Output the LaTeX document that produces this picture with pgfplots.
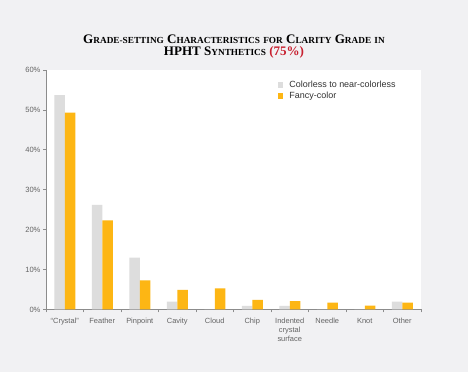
\documentclass[border=0pt]{standalone}
\usepackage{fontspec}
\setmainfont{Liberation Sans}
\newfontfamily\titlefont{Liberation Serif}
\usepackage{pgfplots}
\pgfplotsset{compat=1.18}
\definecolor{bg}{RGB}{241,241,243}
\definecolor{axgray}{RGB}{140,140,140}
\definecolor{lightbar}{RGB}{221,221,221}
\definecolor{orangebar}{RGB}{253,182,20}
\definecolor{titlered}{RGB}{200,32,47}
\definecolor{labgray}{RGB}{100,100,100}
\newcommand\fsc[1]{{\fontsize{9.3}{9.3}\selectfont #1}}
\begin{document}
\begin{tikzpicture}
\path[use as bounding box, fill=bg] (0,0) rectangle (468bp,372bp);
\node[anchor=base, font=\titlefont\bfseries\fontsize{13.1}{14}\selectfont] at (234bp,328.5bp)
  {G\fsc{RADE-SETTING} C\fsc{HARACTERISTICS} \fsc{FOR} C\fsc{LARITY} G\fsc{RADE} \fsc{IN}};
\node[anchor=base, font=\titlefont\bfseries\fontsize{13.1}{14}\selectfont] at (234bp,316bp)
  {HPHT S\fsc{YNTHETICS} \textcolor{titlered}{(75\%)}};
\begin{axis}[
  at={(46bp,62.5bp)}, anchor=south west,
  scale only axis, width=375bp, height=239.5bp,
  axis background/.style={fill=white},
  axis x line=bottom, axis y line=left,
  axis line style={draw=axgray, line width=0.8bp, -},
  xmin=-0.5, xmax=9.5, ymin=0, ymax=60,
  xtick={0,...,9},
  xticklabels={``Crystal'',Feather,Pinpoint,Cavity,Cloud,Chip,{Indented\\crystal\\surface},Needle,Knot,Other},
  major x tick style={draw=none},
  minor xtick={-0.5,0.5,1.5,2.5,3.5,4.5,5.5,6.5,7.5,8.5,9.5},
  minor x tick style={draw=axgray, line width=0.8bp},
  minor tick length=3bp,
  major tick length=3bp,
  tick align=outside,
  ytick={0,10,20,30,40,50,60},
  yticklabel={\pgfmathprintnumber{\tick}\%},
  ytick style={draw=axgray, line width=0.8bp},
  /pgf/number format/assume math mode=true,
  xticklabel style={font=\fontsize{7.5}{8.7}\selectfont, text=labgray, align=center, yshift=-2.5bp},
  yticklabel style={font=\fontsize{7.6}{8.7}\selectfont, text=labgray, xshift=1bp},
  legend style={at={(0.61,0.972)}, anchor=north west, draw=none, fill=none,
    font=\fontsize{9}{10}\selectfont, text=black!80, row sep=-1bp,
    nodes={inner xsep=6bp}},
  legend cell align=left,
  legend image code/.code={\fill[#1] (0bp,-2.75bp) rectangle (5.5bp,2.75bp);},
  clip=false,
]
\addplot[ybar, bar width=10.5bp, bar shift=-5.25bp, fill=lightbar, draw=none] coordinates {
  (0,53.7) (1,26.2) (2,13.0) (3,2.0) (4,0) (5,0.9) (6,0.9) (7,0) (8,0) (9,2.0)};
\addplot[ybar, bar width=10.5bp, bar shift=5.25bp, fill=orangebar, draw=none] coordinates {
  (0,49.3) (1,22.3) (2,7.3) (3,4.9) (4,5.3) (5,2.4) (6,2.1) (7,1.7) (8,1.0) (9,1.7)};
\legend{Colorless to near-colorless, Fancy-color}
\end{axis}
\end{tikzpicture}
\end{document}
